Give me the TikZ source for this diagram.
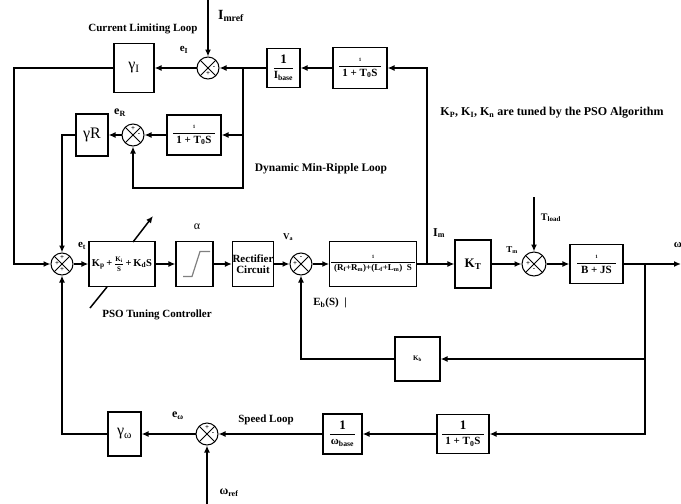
\documentclass[tikz,border=0pt]{standalone}
\usepackage{fontspec}
\setmainfont{Liberation Serif}
\usetikzlibrary{arrows.meta}
\newcommand{\fr}[3][0pt]{$\displaystyle\frac{\hbox{\hspace{#1}#2\hspace{#1}}}{\hbox{\hspace{#1}#3\hspace{#1}}}$}
\begin{document}
\begin{tikzpicture}[x=1pt,y=-1pt, line width=1.5pt,
  box/.style={draw, line width=1.2pt, inner sep=0pt, align=center, font=\bfseries},
  sumj/.style={draw, circle, minimum size=22pt, inner sep=0pt, line width=1pt,
    path picture={\draw[line width=0.8pt] (path picture bounding box.north west)--(path picture bounding box.south east)
      (path picture bounding box.north east)--(path picture bounding box.south west);}},
  arr/.style={-{Latex[length=7pt,width=6pt]}},
  lbl/.style={font=\bfseries, inner sep=0pt},
  sgn/.style={font=\bfseries\scriptsize, inner sep=0pt}]
\useasboundingbox (0,0) rectangle (681,504);
% ---------- top rows ----------
\node[sumj] (sI) at (208,68) {};
\node[box, minimum width=40pt, minimum height=49pt, font=\fontsize{16}{16}\selectfont] (gI) at (134,68) {γ\textsubscript{I}};
\node[box, minimum width=33pt, minimum height=39pt, font=\bfseries\fontsize{11}{11}\selectfont] (ib) at (283.5,68) {\fr{\fontsize{13}{13}\selectfont 1}{I\textsubscript{base}}};
\node[box, minimum width=54pt, minimum height=41pt, font=\bfseries\fontsize{11}{11}\selectfont] (f2) at (360,68) {\fr[3pt]{\tiny 1}{1 + T\textsubscript{0}S}};
\node[sumj] (sR) at (133,135) {};
\node[box, minimum width=32pt, minimum height=42pt, font=\fontsize{16}{16}\selectfont] (gR) at (92,135) {γR};
\node[box, minimum width=54pt, minimum height=40pt, font=\bfseries\fontsize{11}{11}\selectfont] (f1) at (194,135) {\fr[3pt]{\tiny 1}{1 + T\textsubscript{0}S}};
% ---------- main row ----------
\node[sumj] (sM) at (62,264) {};
\node[box, minimum width=66pt, minimum height=45pt, font=\bfseries\fontsize{10.5}{11}\selectfont] (pid) at (122,264) {K\textsubscript{p}\,+\,{\scriptsize\fr{K\textsubscript{i}}{S}}\,+\,K\textsubscript{d}S};
\node[box, minimum width=37pt, minimum height=45pt] (sat) at (194.5,264) {};
\draw[gray, line width=1.2pt] ([shift={(-11.5,12.5)}]sat.center) -- ++(9,0) -- ++(8,-25) -- ++(10,0);
\node[box, minimum width=38pt, minimum height=45pt, font=\bfseries\fontsize{11}{11.5}\selectfont] (rect) at (253,264) {Rectifier\\Circuit};
\node[sumj] (sV) at (301,264) {};
\node[box, minimum width=82pt, minimum height=45pt, font=\bfseries\fontsize{9}{9}\selectfont] (mot) at (373,264) {\fr[3pt]{\tiny 1}{(R\textsubscript{f}+R\textsubscript{m})+(L\textsubscript{f}+L\textsubscript{m})\ \ S}};
\node[box, minimum width=36pt, minimum height=48pt, font=\bfseries\fontsize{13}{13}\selectfont] (KT) at (473,264) {K\textsubscript{T}};
\node[sumj, minimum size=24pt] (sT) at (534,264) {};
\node[box, minimum width=53pt, minimum height=39pt, font=\bfseries\fontsize{11}{11}\selectfont] (mech) at (596.5,264) {\fr[4pt]{\tiny 1}{B + JS}};
% ---------- feedback rows ----------
\node[box, minimum width=45pt, minimum height=44pt, font=\bfseries\fontsize{7}{7}\selectfont] (Kb) at (417.5,359) {K\textsubscript{b}};
\node[box, minimum width=52pt, minimum height=39pt, font=\bfseries\fontsize{11}{11}\selectfont] (f3) at (463,434) {\fr[3pt]{\fontsize{13}{13}\selectfont 1}{1 + T\textsubscript{0}S}};
\node[box, minimum width=39pt, minimum height=40pt, font=\bfseries\fontsize{11}{11}\selectfont] (wb) at (342.5,434) {\fr[1pt]{\fontsize{13}{13}\selectfont 1}{ω\textsubscript{base}}};
\node[sumj] (sW) at (207,434) {};
\node[box, minimum width=33pt, minimum height=44pt, font=\fontsize{16}{16}\selectfont] (gw) at (124.5,434) {γ\textsubscript{ω}};
% ---------- signs ----------
\node[sgn] at ([yshift=-6]sI.center) {+};
\node[sgn] at ([xshift=6]sI.center) {-};
\node[sgn] at ([xshift=6]sR.center) {-};
\node[sgn] at ([yshift=6]sR.center) {+};
\node[sgn] at ([yshift=-6]sM.center) {+};
\node[sgn] at ([xshift=-5]sM.center) {+};
\node[sgn] at ([yshift=6]sM.center) {+};
\node[sgn] at ([xshift=-6]sV.center) {+};
\node[sgn] at ([yshift=6]sV.center) {-};
\node[sgn] at ([yshift=-6]sT.center) {-};
\node[sgn] at ([xshift=-6]sT.center) {+};
\node[sgn] at ([xshift=6]sW.center) {-};
\node[sgn] at ([yshift=6]sW.center) {+};
% ---------- coordinates ----------
\coordinate (imref) at (208,0);
\coordinate (cL) at (14,68);
\coordinate (jI) at (243,68);
\coordinate (cRb) at (243,188);
\coordinate (tIm) at (427,264);
\coordinate (tload) at (534,197);
\coordinate (wout) at (681,264);
\coordinate (tW) at (645,264);
\coordinate (tK) at (645,359);
\coordinate (wref) at (207,504);
\coordinate (p1) at (133,242);
\coordinate (p2) at (153,216);
\coordinate (p3) at (90,308);
\coordinate (p4) at (107,287);
% ---------- connectors ----------
\draw[arr] (imref) -- (sI.north);
\draw[arr] (sI.west) -- (gI.east);
\draw[arr] (gI.west) -- (cL) |- (sM.west);
\draw (ib.west) -- (jI);
\draw[arr] (jI) -- (sI.east);
\draw[arr] (jI) |- (f1.east);
\draw[arr] (jI) -- (cRb) -| (sR.south);
\draw[arr] (f1.west) -- (sR.east);
\draw[arr] (sR.west) -- (gR.east);
\draw[arr] (gR.west) -| (sM.north);
\draw[arr] (f2.west) -- (ib.east);
\draw[arr] (tIm) |- (f2.east);
\draw[arr] (sM.east) -- (pid.west);
\draw[arr] (pid.east) -- (sat.west);
\draw[arr] (sat.east) -- (rect.west);
\draw[arr] (rect.east) -- (sV.west);
\draw[arr] (sV.east) -- (mot.west);
\draw[arr] (mot.east) -- (KT.west);
\draw[arr] (KT.east) -- (sT.west);
\draw[arr] (tload) -- (sT.north);
\draw[arr] (sT.east) -- (mech.west);
\draw[arr] (mech.east) -- (wout);
\draw[arr] (tW) |- (f3.east);
\draw[arr] (tK) -- (Kb.east);
\draw[arr] (Kb.west) -| (sV.south);
\draw[arr] (f3.west) -- (wb.east);
\draw[arr] (wb.west) -- (sW.east);
\draw[arr] (sW.west) -- (gw.east);
\draw[arr] (gw.west) -| (sM.south);
\draw[arr] (wref) -- (sW.south);
\draw[arr] (p1) -- (p2);
\draw (p3) -- (p4);
% ---------- labels ----------
\node[lbl, font=\bfseries\fontsize{11}{11}\selectfont] (tCL) at (143,29) {Current Limiting Loop};
\node[lbl, font=\bfseries\fontsize{14}{14}\selectfont] (tImref) at (231,16) {I\textsubscript{mref}};
\node[lbl, font=\bfseries\fontsize{11}{11}\selectfont] (teI) at (184,50) {e\textsubscript{I}};
\node[lbl, font=\bfseries\fontsize{12}{12}\selectfont] (teR) at (120,113) {e\textsubscript{R}};
\node[lbl, font=\bfseries\fontsize{11.5}{11.5}\selectfont] (tDM) at (321,169) {Dynamic Min-Ripple Loop};
\node[lbl, font=\bfseries\fontsize{12}{12}\selectfont] (tKP) at (552,113) {K\textsubscript{P}, K\textsubscript{I}, K\textsubscript{n} are tuned by the PSO Algorithm};
\node[lbl, font=\bfseries\fontsize{11}{11}\selectfont] (tet) at (82,246) {e\textsubscript{t}};
\node[lbl, font=\fontsize{12}{12}\selectfont] (tal) at (197,227) {α};
\node[lbl, font=\bfseries\fontsize{11}{11}\selectfont] (tPSO) at (157,315) {PSO Tuning Controller};
\node[lbl, font=\bfseries\fontsize{9}{9}\selectfont] (tVa) at (288,237) {V\textsubscript{a}};
\node[lbl, font=\bfseries\fontsize{12}{12}\selectfont] (tIm) at (439,233) {I\textsubscript{m}};
\node[lbl, font=\bfseries\fontsize{11}{11}\selectfont] (tEb) at (330,303) {E\textsubscript{b}(S)\ \ |};
\node[lbl, font=\bfseries\fontsize{9}{9}\selectfont] (tTm) at (512,250) {T\textsubscript{m}};
\node[lbl, font=\bfseries\fontsize{10}{10}\selectfont] (tTl) at (551,218) {T\textsubscript{load}};
\node[lbl, font=\bfseries\fontsize{11}{11}\selectfont, anchor=west] (tw) at (673,245) {ω};
\node[lbl, font=\bfseries\fontsize{12}{12}\selectfont] (tew) at (178,416) {e\textsubscript{ω}};
\node[lbl, font=\bfseries\fontsize{11}{11}\selectfont] (tSL) at (266,420) {Speed Loop};
\node[lbl, font=\bfseries\fontsize{12}{12}\selectfont] (twr) at (229,493) {ω\textsubscript{ref}};
\end{tikzpicture}
\end{document}
